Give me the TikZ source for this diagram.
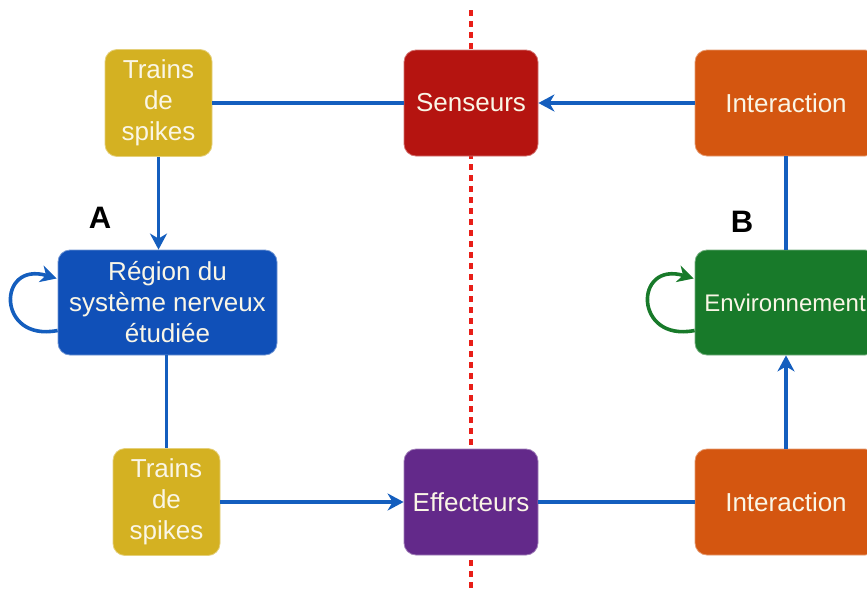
\documentclass[tikz,border=0pt]{standalone}
\usepackage{fontspec}
\setmainfont{Liberation Sans}
\usetikzlibrary{arrows.meta,calc}
\definecolor{gold}{RGB}{212,177,34}
\definecolor{sensred}{RGB}{181,20,16}
\definecolor{effpurple}{RGB}{99,41,138}
\definecolor{interorange}{RGB}{212,86,16}
\definecolor{envgreen}{RGB}{24,122,42}
\definecolor{regblue}{RGB}{16,80,184}
\definecolor{linkblue}{RGB}{20,94,190}
\definecolor{dashred}{RGB}{232,30,24}
\definecolor{looptext}{RGB}{250,246,230}
\tikzset{
  boxbase/.style={rounded corners=12pt, inner sep=0pt, align=center, text=looptext,
    font=\fontsize{26}{31}\selectfont, line width=0.8pt},
  goldbox/.style={boxbase, fill=gold, draw=gold!60!white, minimum width=107pt, minimum height=107pt},
  sensbox/.style={boxbase, fill=sensred, draw=sensred!60!white, minimum width=134pt, minimum height=106pt},
  effbox/.style={boxbase, fill=effpurple, draw=effpurple!60!white, minimum width=134pt, minimum height=106pt},
  interbox/.style={boxbase, fill=interorange, draw=interorange!60!white, minimum width=182pt, minimum height=106pt},
  envbox/.style={boxbase, fill=envgreen, draw=envgreen!60!white, minimum width=182pt, minimum height=105pt,
    font=\fontsize{24}{31}\selectfont},
  regbox/.style={boxbase, fill=regblue, draw=regblue!60!white, minimum width=219pt, minimum height=105pt},
  link/.style={draw=linkblue, line width=3.6pt},
  linkarrow/.style={link, -{Stealth[length=16pt,width=17pt,inset=5pt]}},
  greenloop/.style={draw=envgreen, line width=3.6pt, -{Stealth[length=16pt,width=17pt,inset=5pt]}},
  divider/.style={draw=dashred, line width=4pt, dash pattern=on 6pt off 5pt},
  panel/.style={font=\fontsize{31}{36}\selectfont\bfseries, text=black, inner sep=0pt}
}
\begin{document}
\begin{tikzpicture}[x=1pt,y=-1pt]
\path[use as bounding box, clip] (0,0) rectangle (867,589);
\fill[white] (0,0) rectangle (867,589);
% divider
\coordinate (dtop) at (471,10);
\coordinate (dbot) at (471,595);
\draw[divider] (dtop) -- (dbot);
% nodes
\node[goldbox] (t1) at (158.5,103) {Trains\\de\\spikes};
\node[sensbox] (sens) at (471,103) {Senseurs};
\node[interbox] (i1) at (786,103) {Interaction};
\node[regbox] (reg) at (167.5,302.5) {Région du\\système nerveux\\étudiée};
\node[envbox] (env) at (786,302.5) {};
\node[font=\fontsize{24}{31}\selectfont, text=looptext, inner sep=0pt] (envtext) at (785,302.5) {Environnement};
\node[goldbox] (t2) at (166.5,502) {Trains\\de\\spikes};
\node[effbox] (eff) at (471,502) {Effecteurs};
\node[interbox] (i2) at (786,502) {Interaction};
% labels
\node[panel] (lA) at (100,218) {A};
\node[panel] (lB) at (742,222) {B};
% connectors
\draw[link] (t1.east) -- (sens.west);
\draw[linkarrow] (i1.west) -- (sens.east);
\draw[linkarrow] (t1.south) -- (t1.south |- reg.north);
\draw[link] (reg.south -| t2.north) -- (t2.north);
\draw[linkarrow] (t2.east) -- (eff.west);
\draw[link] (eff.east) -- (i2.west);
\draw[linkarrow] (i2.north) -- (env.south);
\draw[link] (env.north) -- (i1.south);
% self loops
\draw[linkarrow] ($(reg.west)+(0,28)$) .. controls ($(reg.west)+(-61,40)$) and ($(reg.west)+(-61,-42)$) .. ($(reg.west)+(-1,-24)$);
\draw[greenloop] ($(env.west)+(0,28)$) .. controls ($(env.west)+(-61,40)$) and ($(env.west)+(-61,-42)$) .. ($(env.west)+(-1,-24)$);
\end{tikzpicture}
\end{document}
